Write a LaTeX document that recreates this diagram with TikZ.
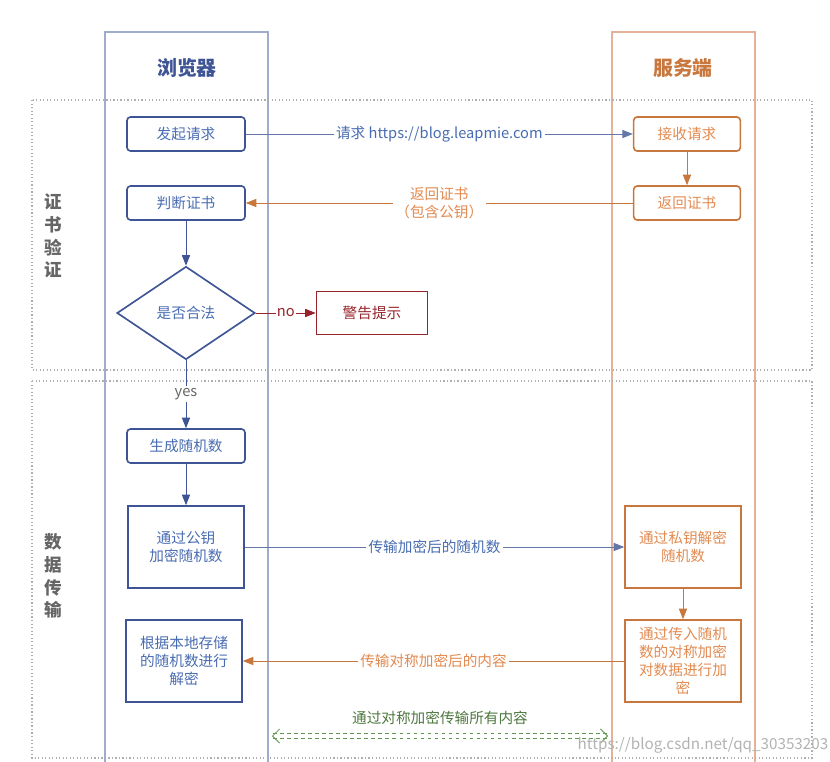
\documentclass[tikz,border=0pt]{standalone}
\usepackage{fontspec}
\setmainfont{Noto Sans CJK SC}
\usetikzlibrary{shapes.geometric,arrows.meta}

\definecolor{bblue}{RGB}{62,84,148}
\definecolor{btext}{RGB}{72,108,178}
\definecolor{sorange}{RGB}{200,120,62}
\definecolor{stext}{RGB}{226,138,80}
\definecolor{wred}{RGB}{150,36,42}
\definecolor{lgreen}{RGB}{96,150,78}
\definecolor{laneblue}{RGB}{160,172,205}
\definecolor{laneorange}{RGB}{228,178,152}
\definecolor{secgray}{RGB}{175,175,175}

\begin{document}
\begin{tikzpicture}[x=0.03cm, y=-0.03cm,
  boxfont/.style={font=\fontsize{12.5}{15.3}\selectfont, align=center},
  bstep/.style={boxfont, draw=bblue, line width=1.4pt, text=btext,
    minimum width=3.54cm, minimum height=1.02cm, rounded corners=3pt},
  sstep/.style={boxfont, draw=sorange, line width=1.4pt, text=stext,
    minimum width=3.2cm, minimum height=1.02cm, rounded corners=3pt},
  bbig/.style={bstep, rounded corners=0pt, minimum width=3.48cm, minimum height=2.46cm},
  sbig/.style={sstep, rounded corners=0pt, minimum width=3.48cm, minimum height=2.46cm},
  lanetitle/.style={font=\fontsize{17}{20}\selectfont\bfseries},
  sidelabel/.style={font=\fontsize{15}{19.5}\selectfont\bfseries, text=black!60, align=center},
  flow/.style={line width=0.8pt, -{Triangle[length=9pt,width=7pt]}},
  lbl/.style={boxfont, fill=white, inner sep=2pt},
  section/.style={draw=secgray, dotted, line width=1pt}]

  \useasboundingbox (0,0) rectangle (830,762);

  % swim lanes
  \draw[laneblue, line width=1pt] (105,770) -- (105,32) -- (268,32) -- (268,770);
  \draw[laneorange, line width=1pt] (612,770) -- (612,32) -- (755,32) -- (755,770);
  \node[lanetitle, text=bblue] (browser) at (187,68) {浏览器};
  \node[lanetitle, text=sorange] (server) at (683,68) {服务端};

  % phases
  \draw[section] (32,100) rectangle (812,370);
  \draw[section] (32,381) rectangle (812,758);
  \node[sidelabel] (certphase) at (53,236) {证\\书\\验\\证};
  \node[sidelabel] (dataphase) at (53,576) {数\\据\\传\\输};

  % browser side
  \node[bstep] (req) at (186,134) {发起请求};
  \node[bstep] (check) at (186,203) {判断证书};
  \node[diamond, draw=bblue, line width=1.4pt, text=btext, boxfont,
    minimum width=4.14cm, minimum height=2.79cm, inner sep=0pt] (legal) at (186,313) {是否合法};
  \node[boxfont, draw=wred, line width=1.4pt, text=wred,
    minimum width=3.33cm, minimum height=1.29cm] (warn) at (372,313) {警告提示};
  \node[bstep] (rand) at (186,446) {生成随机数};
  \node[bbig] (enc) at (186,547) {通过公钥\\加密随机数};
  \node[bbig] (local) at (184,661) {根据本地存储\\的随机数进行\\解密};

  % server side
  \node[sstep] (recv) at (687,134) {接收请求};
  \node[sstep] (ret) at (687,203) {返回证书};
  \node[sbig] (dec) at (683,547) {通过私钥解密\\随机数};
  \node[sbig] (sym) at (683,661) {通过传入随机\\数的对称加密\\对数据进行加\\密};

  % connectors
  \draw[flow, bblue!80] (req) -- node[lbl, text=btext] {请求 https://blog.leapmie.com} (recv);
  \draw[flow, sorange] (recv) -- (ret);
  \draw[flow, sorange] (ret) -- node[lbl, text=stext] {返回证书\\（包含公钥）} (check);
  \draw[flow, bblue] (check) -- (legal);
  \draw[flow, wred] (legal) -- node[lbl, text=wred, inner sep=1pt] {no} (warn);
  \draw[flow, bblue] (legal) -- node[lbl, text=black!60] {yes} (rand);
  \draw[flow, bblue] (rand) -- (enc);
  \draw[flow, bblue!80] (enc) -- node[lbl, text=btext] {传输加密后的随机数} (dec);
  \draw[flow, sorange] (dec) -- (sym);
  \draw[flow, sorange] (sym) -- node[lbl, text=stext] {传输对称加密后的内容} (local);

  % symmetric channel
  \coordinate (chanl) at (272,736);
  \coordinate (chanr) at (608,736);
  \draw[lgreen, dashed, double, double distance=4pt, line width=0.7pt,
    {Straight Barb[length=6pt]}-{Straight Barb[length=6pt]}] (chanl) -- (chanr);
  \node[boxfont, text=lgreen!80!black] (chanlbl) at (440,718) {通过对称加密传输所有内容};

  \node[font=\fontsize{13}{15}\selectfont, text=black!30] (mark) at (703,745) {https://blog.csdn.net/qq\_30353203};
\end{tikzpicture}
\end{document}
